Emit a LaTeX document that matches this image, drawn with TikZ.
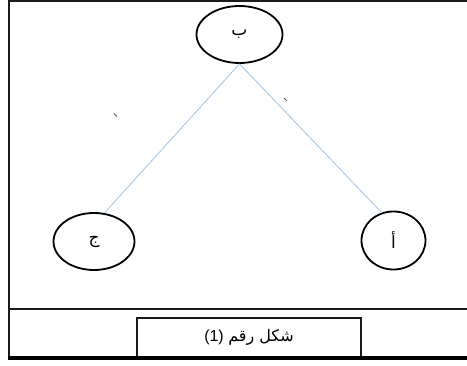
\documentclass[tikz,border=0pt]{standalone}
\usepackage{fontspec}
\usetikzlibrary{shapes.geometric}
\setmainfont{Liberation Sans}
\newfontfamily\arabicfont[Script=Arabic]{DejaVu Sans}
\TeXXeTstate=1
\definecolor{linkblue}{HTML}{9DC3E6}
\definecolor{framegray}{HTML}{1A1A1A}
\begin{document}
\begin{tikzpicture}[x=1pt,y=-1pt,
  circ/.style={ellipse, draw=black, line width=1.8pt, inner sep=0pt},
  link/.style={draw=linkblue, line width=0.8pt},
  frameline/.style={draw=framegray, line width=2pt},
  strokemark/.style={draw=gray!70!black, line width=1pt},
  lbl/.style={font=\fontsize{17}{19}\selectfont},
  caplbl/.style={font=\fontsize{16}{18}\selectfont}
]
\useasboundingbox (0,0) rectangle (467,366);
% frame
\coordinate (tl) at (9,1);
\coordinate (tr) at (467,1);
\coordinate (bl) at (9,358);
\coordinate (br) at (467,358);
\coordinate (sl) at (9,309);
\coordinate (sr) at (467,309);
\draw[frameline] (tr) -- (tl) -- (bl);
\draw[frameline] (sl) -- (sr);
\draw[draw=black, line width=4pt] (8,358) -- (br);
% caption box
\coordinate (cb1) at (137,356);
\coordinate (cb2) at (361,318);
\draw[draw=framegray, line width=1.5pt] (cb1) -- (137,318) -- (cb2) -- (361,356);
\node[caplbl] (cap) at (249,337) {(1) {\arabicfont\beginR شكل رقم\endR}};
% nodes
\node[circ, lbl, minimum width=86pt, minimum height=57pt] (b) at (239.5,34.5) {\arabicfont\beginR ب\endR};
\node[circ, lbl, minimum width=81pt, minimum height=57pt] (j) at (94,241.5) {\arabicfont\beginR ج\endR};
\node[circ, lbl, minimum width=64pt, minimum height=58pt] (a) at (393.5,240.5) {\arabicfont\beginR أ\endR};
% connectors
\draw[link] (b.south) -- (j.70);
\draw[link] (b.south) -- (a.113);
% small marks
\draw[strokemark] (114,113.5) -- (117,116.5);
\draw[strokemark] (284,98) -- (287,101);
\end{tikzpicture}
\end{document}
